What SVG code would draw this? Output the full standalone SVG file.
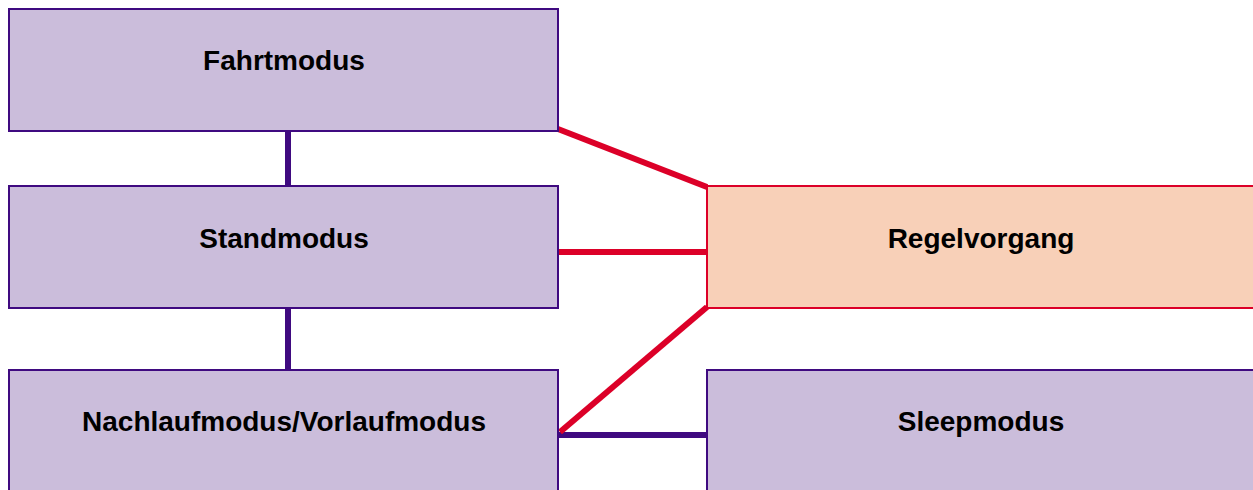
<svg xmlns="http://www.w3.org/2000/svg" width="1253" height="490" viewBox="0 0 1253 490">
<style>
.mode{fill:#cbbddb;stroke:#3f0a80;stroke-width:2}
.ctrl{fill:#f8d0b8;stroke:#dc0028;stroke-width:2}
.lbl{font-family:"Liberation Sans",Arial,sans-serif;font-weight:bold;font-size:28px;fill:#000;text-anchor:middle;dominant-baseline:central}
.cp{stroke:#3f0a80;stroke-width:6;fill:none}
.cr{stroke:#dc0028;stroke-width:6;fill:none}
</style>
<rect width="1253" height="490" fill="#fff"/>
<g id="connectors">
<line class="cp" x1="288" y1="131" x2="288" y2="185"/>
<line class="cp" x1="288" y1="308" x2="288" y2="369"/>
<line class="cp" x1="558" y1="435" x2="707" y2="435"/>
<line class="cr" x1="558" y1="129" x2="707" y2="187"/>
<line class="cr" x1="558" y1="252" x2="707" y2="252"/>
<line class="cr" x1="560" y1="432" x2="707" y2="307"/>
</g>
<g id="fahrtmodus"><rect class="mode" x="9" y="9" width="549" height="122"/><text class="lbl" x="284" y="60">Fahrtmodus</text></g>
<g id="standmodus"><rect class="mode" x="9" y="186" width="549" height="122"/><text class="lbl" x="284" y="238">Standmodus</text></g>
<g id="nachlaufmodus"><rect class="mode" x="9" y="370" width="549" height="130"/><text class="lbl" x="284" y="421">Nachlaufmodus/Vorlaufmodus</text></g>
<g id="regelvorgang"><rect class="ctrl" x="707" y="186" width="560" height="122"/><text class="lbl" x="981" y="238">Regelvorgang</text></g>
<g id="sleepmodus"><rect class="mode" x="707" y="370" width="560" height="130"/><text class="lbl" x="981" y="421">Sleepmodus</text></g>
</svg>
